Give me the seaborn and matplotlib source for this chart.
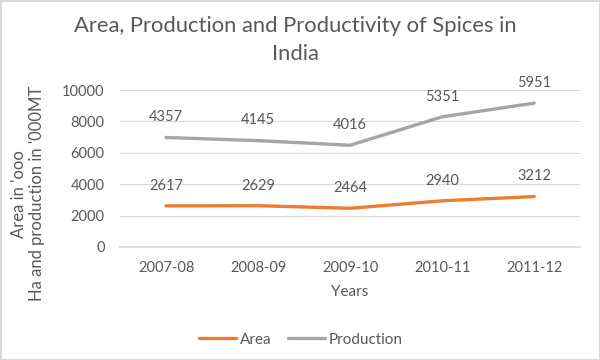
import numpy as np
import pandas as pd
import seaborn as sns
import matplotlib as mpl
import matplotlib.pyplot as plt

mpl.use('Agg')

years = ['2007-08', '2008-09', '2009-10', '2010-11', '2011-12']
area = [2617, 2629, 2464, 2940, 3212]
production = [4357, 4145, 4016, 5351, 5951]
yticks = [0, 2000, 4000, 6000, 8000, 10000]

text_color = '#595959'
colors = {'Area': '#ED7D31', 'Production': '#A5A5A5'}


def main():
    sns.set_theme(style='white')
    plt.rcParams['font.family'] = ['Lato', 'DejaVu Sans']

    # excel "stacked line": production sits on top of area
    stacked = [a + p for a, p in zip(area, production)]
    df = pd.DataFrame({
        'year': years * 2,
        'value': area + stacked,
        'label': area + production,
        'series': ['Area'] * len(years) + ['Production'] * len(years),
    })

    fig = plt.figure(figsize=(6, 3.6), dpi=100)
    fig.patch.set_edgecolor('#D9D9D9')
    fig.patch.set_linewidth(2)
    ax = fig.add_axes([0.2, 0.314, 0.767, 0.436])

    sns.lineplot(data=df, x='year', y='value', hue='series', palette=colors,
                 linewidth=2.4, ax=ax, sort=False)

    for _, row in df.iterrows():
        ax.annotate(str(row['label']), (row['year'], row['value']),
                    xytext=(0, 14.5), textcoords='offset points',
                    ha='center', va='center', fontsize=10.5, color=text_color)

    ax.set_ylim(0, 10000)
    ax.set_yticks(yticks)
    ax.set_xlim(-0.5, len(years) - 0.5)
    ax.grid(axis='y', color='#D9D9D9', linewidth=0.8)
    ax.set_axisbelow(True)
    for side in ['top', 'right', 'left']:
        ax.spines[side].set_visible(False)
    ax.spines['bottom'].set_color('#D9D9D9')
    ax.tick_params(axis='x', length=0, labelsize=10.5, colors=text_color, pad=10)
    ax.tick_params(axis='y', length=0, labelsize=10.5, colors=text_color, pad=11)

    ax.set_xlabel('Years', fontsize=11, color=text_color, labelpad=7)
    ax.set_ylabel("Area in 'ooo\nHa and production in '000MT", fontsize=12,
                  color=text_color, linespacing=1.15)
    ax.yaxis.set_label_coords(-0.162, 0.34)

    fig.suptitle('Area, Production and Productivity of Spices in\nIndia',
                 fontsize=15.8, color=text_color, y=0.955, x=0.492, linespacing=1.5)

    ax.legend(loc='center', bbox_to_anchor=(0.393, -0.59), ncol=2, frameon=False,
              fontsize=11, labelcolor=text_color, handlelength=2.4, columnspacing=1.1,
              handletextpad=0.25)

    fig.savefig('out.png', dpi=100, edgecolor=fig.get_edgecolor())


if __name__ == '__main__':
    main()
